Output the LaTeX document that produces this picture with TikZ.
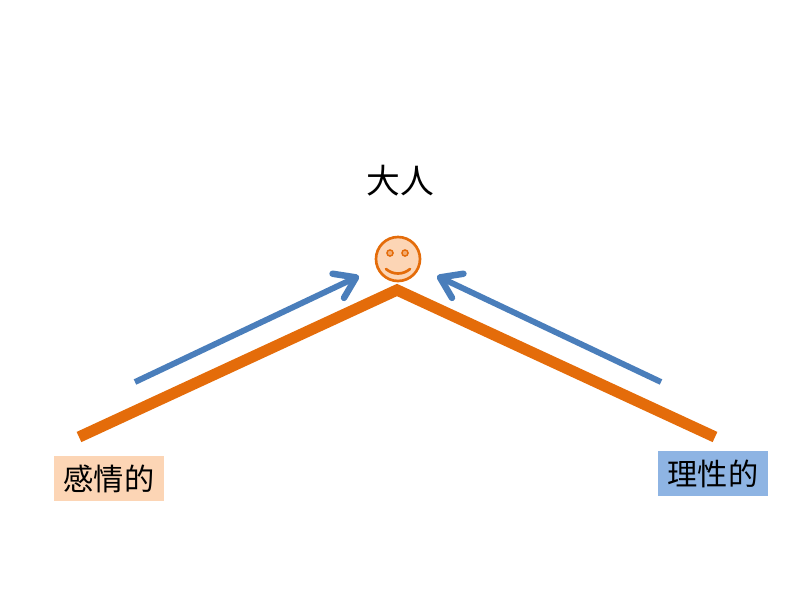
\documentclass[tikz,border=0pt]{standalone}
\usepackage{fontspec}
\newfontfamily\cjk{Noto Sans CJK JP}
\usetikzlibrary{arrows.meta, positioning}
\definecolor{roofcol}{HTML}{E46C0A}
\definecolor{arrowcol}{HTML}{4A7EBB}
\definecolor{peachcol}{HTML}{FCD5B5}
\definecolor{bluecol}{HTML}{8EB4E3}
\tikzset{
    label box/.style={minimum width=2.75cm, minimum height=1.125cm, inner sep=0pt, font=\cjk\fontsize{21.5}{25}\selectfont},
    roof/.style={draw=roofcol, line width=8pt, miter limit=10},
    rise/.style={draw=arrowcol, line width=4.2pt, -{Straight Barb[length=14pt, width=19pt, line width=4.6pt, round]}},
    eye/.style={circle, draw=roofcol, fill=peachcol!60!roofcol, line width=1pt, minimum size=4.4pt, inner sep=0pt}
}

\begin{document}
\begin{tikzpicture}[x=0.025cm, y=-0.025cm]
        \useasboundingbox (0,0) rectangle (800,600);
        \node[font=\cjk\fontsize{24}{28}\selectfont] (title) at (400,180.5) {大人};
        \node[circle, draw=roofcol, fill=peachcol, line width=1.9pt, minimum size=1.1cm, inner sep=0pt] (face) at (398,259) {};
        \node[eye] (eye_l) at (390,253) {};
        \node[eye] (eye_r) at (405,253) {};
        \coordinate (smile_l) at (386,269);
        \coordinate (smile_r) at (410,269);
        \node[label box, fill=peachcol] (feeling) at (109,478.5) {感情的};
        \node[label box, fill=bluecol] (reason) at (713,473.5) {理性的};
        \coordinate (roof_l) at (79,437);
        \coordinate (roof_top) at (397,290);
        \coordinate (roof_r) at (715,437);
        \coordinate (rise_l) at (135,382);
        \coordinate (rise_lend) at (359,276);
        \coordinate (rise_r) at (661,382);
        \coordinate (rise_rend) at (437,276);
        \draw[roofcol, line width=1.9pt, line cap=round] (smile_l) .. controls (393,275) and (403,275) .. (smile_r);
        \draw[roof] (roof_l) -- (roof_top) -- (roof_r);
        \draw[rise] (rise_l) -- (rise_lend);
        \draw[rise] (rise_r) -- (rise_rend);
\end{tikzpicture}
\end{document}
